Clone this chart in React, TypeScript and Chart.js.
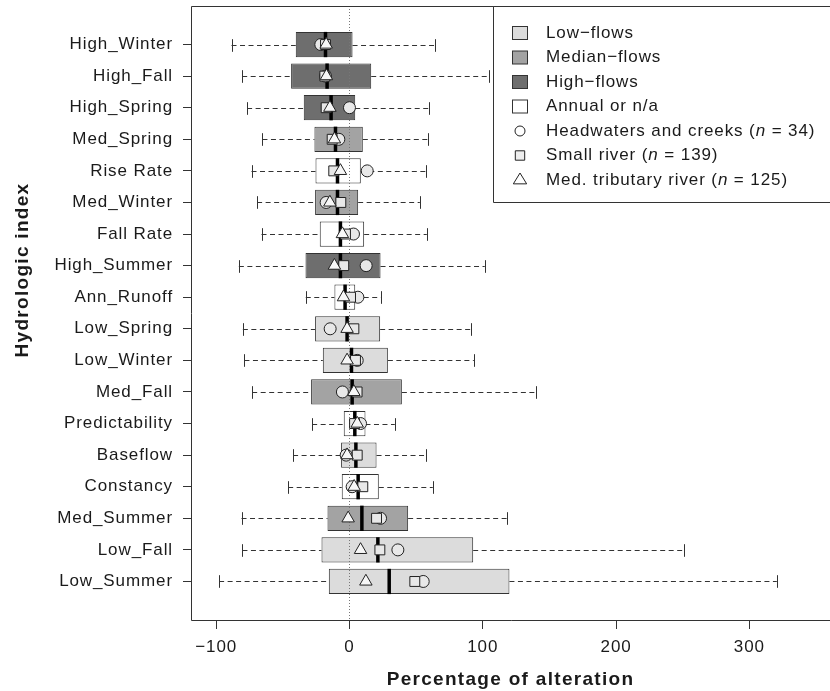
import React, { useEffect, useRef } from 'react';
import { Chart, registerables } from 'chart.js';

Chart.register(...registerables);

// ---------- data (top to bottom) ----------
const categories = [
  'High_Winter', 'High_Fall', 'High_Spring', 'Med_Spring', 'Rise Rate', 'Med_Winter',
  'Fall Rate', 'High_Summer', 'Ann_Runoff', 'Low_Spring', 'Low_Winter', 'Med_Fall',
  'Predictability', 'Baseflow', 'Constancy', 'Med_Summer', 'Low_Fall', 'Low_Summer',
];
const flowType = [
  'high', 'high', 'high', 'median', 'annual', 'median',
  'annual', 'high', 'annual', 'low', 'low', 'median',
  'annual', 'low', 'annual', 'median', 'low', 'low',
];
const whiskerLow = [-88.5, -80.5, -76.8, -65.3, -73.5, -69.3, -66, -83, -32.8, -80, -78.8, -73, -28, -42.3, -46, -81, -80.3, -97.8];
const q1 = [-40.3, -43.8, -34.3, -26.3, -25.5, -25.8, -22.3, -33, -11.3, -25.8, -20, -28.8, -4.3, -6.3, -5.8, -16.5, -21, -15.5];
const median = [-18, -16.8, -13.8, -10.5, -9, -9, -6.8, -6.8, -3.3, -1.8, 1.5, 2, 4, 4.8, 6.5, 9.3, 21.3, 29.8];
const q3 = [2.3, 16.3, 4.3, 10, 8.5, 6.5, 11, 23.3, 4.3, 23, 28.8, 39.3, 12, 20.3, 22, 44, 92.8, 120];
const whiskerHigh = [63.8, 104.8, 59.3, 58.8, 57.5, 52.8, 58, 101.5, 23.5, 91.3, 93.3, 139.8, 34, 57.3, 62.5, 118.3, 251, 320.6];
const headwaters = [-21.5, -18, 0, -8, 13.3, -17.5, 3, 12.5, 6.3, -14.5, 5.8, -5.3, 8.3, -2.5, 2, 23.3, 36.3, 55.3];
const smallRiver = [-18, -18.5, -17.5, -13, -11.8, -6.5, -3, -4.3, 0.8, 3.3, 4.5, 5.7, 3.8, 5.8, 10, 20.3, 22.8, 49];
const medTributary = [-17.5, -17.3, -14.7, -11.3, -6.8, -14.7, -5.3, -11.3, -4.5, -1.8, -1.8, 3.3, 5.8, -1.8, 3.5, -1, 8.3, 12.3];
const xTickValues = [-100, 0, 100, 200, 300];

const flowLegendKeys = ['low', 'median', 'high', 'annual'];
const flowLegendLabels = ['Low\u2212flows', 'Median\u2212flows', 'High\u2212flows', 'Annual or n/a'];
const siteLegendNames = ['Headwaters and creeks', 'Small river', 'Med. tributary river'];
const siteLegendCounts = [34, 139, 125];
const siteLegendShapes = ['circle', 'rect', 'triangle'];

// ---------- styles ----------
const FONT = '"Liberation Sans", Arial, Helvetica, sans-serif';
const TEXT = '#1a1a1a';
const flowColors: Record<string, string> = {
  low: '#dcdcdc',
  median: '#a3a3a3',
  high: '#6e6e6e',
  annual: '#ffffff',
};
const markerFill = '#e8e8e8';
const triFill = '#f7f7f7';
const W = 830;
const H = 691;

function drawShape(ctx: CanvasRenderingContext2D, shape: string, x: number, y: number, size: number, fill: string) {
  ctx.beginPath();
  if (shape === 'circle') {
    ctx.arc(x, y, size, 0, Math.PI * 2);
  } else if (shape === 'rect') {
    ctx.rect(x - size, y - size, size * 2, size * 2);
  } else {
    ctx.moveTo(x, y - size);
    ctx.lineTo(x + size * 0.866 * 1.1, y + size * 0.5 * 1.1);
    ctx.lineTo(x - size * 0.866 * 1.1, y + size * 0.5 * 1.1);
    ctx.closePath();
  }
  ctx.fillStyle = fill;
  ctx.fill();
  ctx.strokeStyle = '#222';
  ctx.lineWidth = 1;
  ctx.stroke();
}

const extrasPlugin = {
  id: 'boxExtras',
  beforeDraw(chart: any) {
    chart.ctx.letterSpacing = '0.9px';
  },
  beforeDatasetsDraw(chart: any) {
    const { ctx } = chart;
    const x = chart.scales.x;
    const meta = chart.getDatasetMeta(0);
    ctx.save();
    ctx.strokeStyle = '#333';
    ctx.lineWidth = 1;
    meta.data.forEach((el: any, i: number) => {
      const y = Math.round(el.y) + 0.5;
      const h = el.height;
      const xl = x.getPixelForValue(whiskerLow[i]);
      const xa = x.getPixelForValue(q1[i]);
      const xb = x.getPixelForValue(q3[i]);
      const xh = x.getPixelForValue(whiskerHigh[i]);
      ctx.setLineDash([5, 3.5]);
      ctx.beginPath();
      ctx.moveTo(xl, y);
      ctx.lineTo(xa, y);
      ctx.moveTo(xb, y);
      ctx.lineTo(xh, y);
      ctx.stroke();
      ctx.setLineDash([]);
      ctx.beginPath();
      ctx.moveTo(Math.round(xl) + 0.5, y - h / 4);
      ctx.lineTo(Math.round(xl) + 0.5, y + h / 4);
      ctx.moveTo(Math.round(xh) + 0.5, y - h / 4);
      ctx.lineTo(Math.round(xh) + 0.5, y + h / 4);
      ctx.stroke();
    });
    ctx.restore();
  },
  afterDatasetDraw(chart: any, args: any) {
    if (args.index !== 0) return;
    const { ctx, chartArea } = chart;
    const x = chart.scales.x;
    const meta = chart.getDatasetMeta(0);
    ctx.save();
    // medians
    ctx.strokeStyle = '#000';
    ctx.lineWidth = 3.5;
    meta.data.forEach((el: any, i: number) => {
      const xm = x.getPixelForValue(median[i]);
      ctx.beginPath();
      ctx.moveTo(xm, el.y - el.height / 2);
      ctx.lineTo(xm, el.y + el.height / 2);
      ctx.stroke();
    });
    // zero reference line
    const x0 = Math.round(x.getPixelForValue(0)) + 0.5;
    ctx.strokeStyle = '#777';
    ctx.lineWidth = 1;
    ctx.setLineDash([1, 2]);
    ctx.beginPath();
    ctx.moveTo(x0, chartArea.top);
    ctx.lineTo(x0, chartArea.bottom);
    ctx.stroke();
    ctx.restore();
  },
  afterDatasetsDraw(chart: any) {
    const { ctx, chartArea } = chart;
    ctx.save();
    // frame (right side is off-canvas)
    const L = Math.round(chartArea.left) + 0.5;
    const T = Math.round(chartArea.top) + 0.5;
    const B = Math.round(chartArea.bottom) + 0.5;
    ctx.strokeStyle = '#333';
    ctx.lineWidth = 1;
    ctx.beginPath();
    ctx.moveTo(chart.width + 5, T);
    ctx.lineTo(L, T);
    ctx.lineTo(L, B);
    ctx.lineTo(chart.width + 5, B);
    ctx.stroke();

    // legend
    const lx = 493.5;
    const lb = 202.5;
    ctx.fillStyle = '#fff';
    ctx.fillRect(lx, T, chart.width - lx + 10, lb - T);
    ctx.beginPath();
    ctx.moveTo(chart.width + 5, T);
    ctx.lineTo(lx, T);
    ctx.lineTo(lx, lb);
    ctx.lineTo(chart.width + 5, lb);
    ctx.stroke();

    const symX = 520;
    const txtX = 546;
    const row0 = 33;
    const rowH = 24.5;
    ctx.font = `17px ${FONT}`;
    ctx.textBaseline = 'middle';
    ctx.textAlign = 'left';
    (ctx as any).letterSpacing = '0.9px';
    flowLegendLabels.forEach((lab, i) => {
      const y = row0 + i * rowH;
      ctx.fillStyle = flowColors[flowLegendKeys[i]];
      ctx.fillRect(symX - 7.5, y - 6.5, 15, 13);
      ctx.strokeStyle = '#333';
      ctx.strokeRect(symX - 7.5, y - 6.5, 15, 13);
      ctx.fillStyle = TEXT;
      ctx.fillText(lab, txtX, y);
    });
    siteLegendNames.forEach((name, j) => {
      const y = row0 + (flowLegendLabels.length + j) * rowH;
      const shape = siteLegendShapes[j];
      const size = shape === 'circle' ? 5 : shape === 'rect' ? 4.7 : 7;
      drawShape(ctx, shape, symX, y, size, shape === 'rect' ? '#eeeeee' : '#ffffff');
      ctx.fillStyle = TEXT;
      let cx = txtX;
      const pre = `${name} (`;
      ctx.font = `17px ${FONT}`;
      ctx.fillText(pre, cx, y);
      cx += ctx.measureText(pre).width;
      ctx.font = `italic 17px ${FONT}`;
      ctx.fillText('n', cx, y);
      cx += ctx.measureText('n').width;
      ctx.font = `17px ${FONT}`;
      ctx.fillText(` = ${siteLegendCounts[j]})`, cx, y);
    });

    // axis titles
    ctx.fillStyle = TEXT;
    ctx.font = `bold 19px ${FONT}`;
    (ctx as any).letterSpacing = '1.3px';
    ctx.textAlign = 'center';
    ctx.textBaseline = 'middle';
    ctx.fillText('Percentage of alteration', (chartArea.left + chartArea.right) / 2, 680);
    ctx.translate(22.5, 270);
    ctx.rotate(-Math.PI / 2);
    ctx.fillText('Hydrologic index', 0, 0);
    ctx.restore();
  },
};

export default function App() {
  const canvasRef = useRef<HTMLCanvasElement | null>(null);

  useEffect(() => {
    const canvas = canvasRef.current;
    if (!canvas) return;
    const idx = categories.map((_, i) => i);
    const chart = new Chart(canvas, {
      type: 'bar',
      data: {
        datasets: [
          {
            type: 'bar',
            indexAxis: 'y',
            data: idx.map((i) => ({ x: [q1[i], q3[i]], y: i })) as any,
            backgroundColor: flowType.map((t) => flowColors[t]),
            borderColor: '#333',
            borderWidth: 1,
            borderSkipped: false,
            barPercentage: 0.8,
            categoryPercentage: 1,
            order: 4,
          } as any,
          {
            type: 'scatter',
            data: idx.map((i) => ({ x: headwaters[i], y: i })),
            pointStyle: 'circle',
            pointRadius: 6,
            backgroundColor: markerFill,
            borderColor: '#222',
            borderWidth: 1,
            order: 3,
          } as any,
          {
            type: 'scatter',
            data: idx.map((i) => ({ x: smallRiver[i], y: i })),
            pointStyle: 'rect',
            pointRadius: 7,
            backgroundColor: markerFill,
            borderColor: '#222',
            borderWidth: 1,
            order: 2,
          } as any,
          {
            type: 'scatter',
            data: idx.map((i) => ({ x: medTributary[i], y: i })),
            pointStyle: 'triangle',
            pointRadius: 7.2,
            backgroundColor: triFill,
            borderColor: '#222',
            borderWidth: 1,
            order: 1,
          } as any,
        ],
      },
      options: {
        responsive: false,
        animation: false,
        devicePixelRatio: 1,
        events: [],
        layout: { autoPadding: false, padding: { top: 6, left: 0, right: 0, bottom: 0 } },
        plugins: { legend: { display: false }, tooltip: { enabled: false } },
        scales: {
          x: {
            type: 'linear',
            position: 'bottom',
            offset: false,
            min: -118.9,
            max: 360.5,
            afterBuildTicks: (axis: any) => {
              axis.ticks = xTickValues.map((v) => ({ value: v }));
            },
            afterFit: (axis: any) => {
              axis.height = 71;
              axis.paddingLeft = 0;
              axis.paddingRight = 0;
            },
            ticks: {
              autoSkip: false,
              maxRotation: 0,
              padding: 8,
              color: TEXT,
              font: { family: FONT, size: 17 },
              callback: (v: any) => (Number(v) < 0 ? '\u2212' + Math.abs(Number(v)) : String(v)),
            },
            grid: { offset: false, drawOnChartArea: false, drawTicks: true, tickLength: 9, color: '#333', lineWidth: 1 },
            border: { display: false },
          },
          y: {
            type: 'linear',
            position: 'left',
            offset: false,
            reverse: true,
            min: -1.22,
            max: 18.22,
            afterBuildTicks: (axis: any) => {
              axis.ticks = categories.map((_, i) => ({ value: i }));
            },
            afterFit: (axis: any) => {
              axis.width = 191;
              axis.paddingTop = 0;
              axis.paddingBottom = 0;
            },
            ticks: {
              autoSkip: false,
              padding: 10,
              color: TEXT,
              font: { family: FONT, size: 17 },
              callback: (v: any) => categories[Number(v)] ?? '',
            },
            grid: { offset: false, drawOnChartArea: false, drawTicks: true, tickLength: 8, color: '#333', lineWidth: 1 },
            border: { display: false },
          },
        },
      } as any,
      plugins: [extrasPlugin as any],
    });
    return () => chart.destroy();
  }, []);

  return (
    <div style={{ position: 'absolute', left: 0, top: 0, width: W, height: H, overflow: 'hidden', background: '#fff' }}>
      <canvas ref={canvasRef} width={W} height={H} style={{ display: 'block' }} />
    </div>
  );
}
